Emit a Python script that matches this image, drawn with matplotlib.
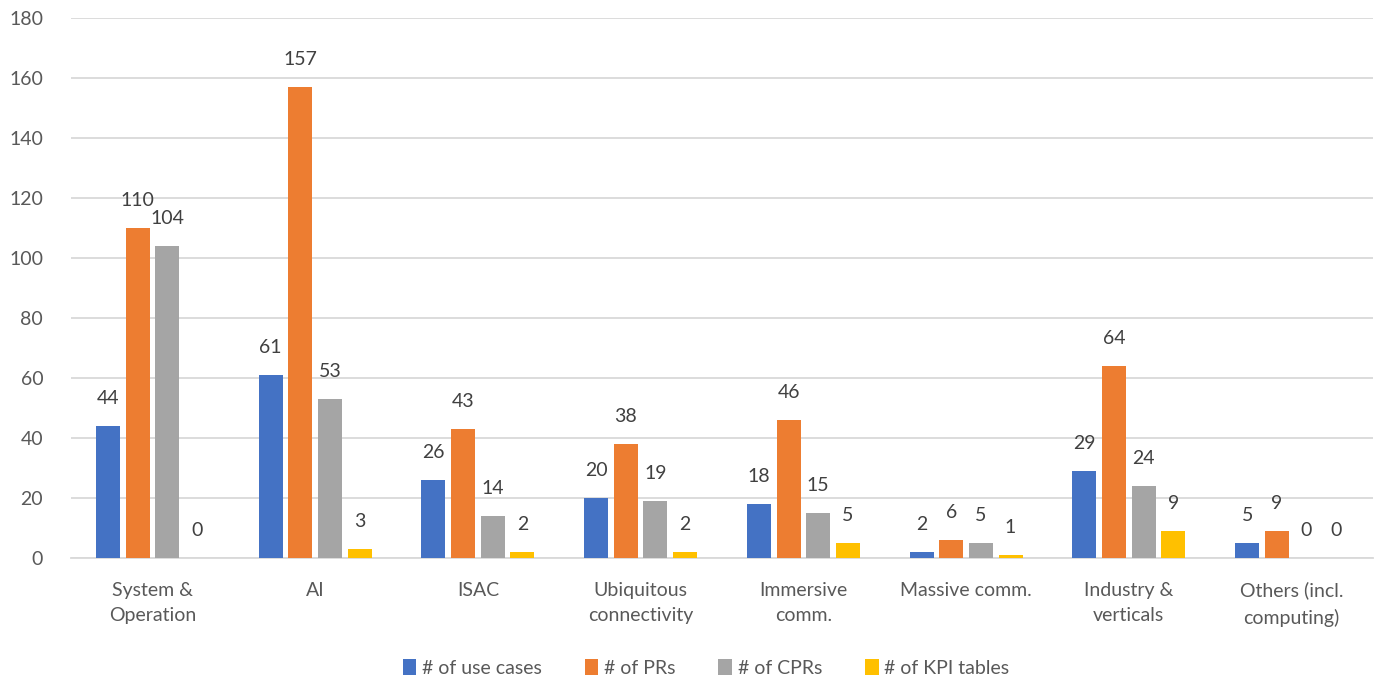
import numpy as np
import matplotlib.pyplot as plt
from matplotlib.patches import Patch

# ---------- data ----------
categories = ["System &\nOperation", "AI", "ISAC", "Ubiquitous\nconnectivity",
              "Immersive\ncomm.", "Massive comm.", "Industry &\nverticals",
              "Others (incl.\ncomputing)"]
use_cases = [44, 61, 26, 20, 18, 2, 29, 5]
prs = [110, 157, 43, 38, 46, 6, 64, 9]
cprs = [104, 53, 14, 19, 15, 5, 24, 0]
kpi_tables = [0, 3, 2, 2, 5, 1, 9, 0]

series_names = ["# of use cases", "# of PRs", "# of CPRs", "# of KPI tables"]
series_values = [use_cases, prs, cprs, kpi_tables]
colors = ["#4472C4", "#ED7D31", "#A5A5A5", "#FFC000"]

text_color = "#595959"
label_color = "#404040"
grid_color = "#D9D9D9"

plt.rcParams.update({
    "font.family": ["Lato", "DejaVu Sans"],
    "font.size": 14,
})

fig = plt.figure(figsize=(13.75, 6.82), dpi=100)
ax = fig.add_axes([71 / 1375, 1 - 558 / 682, (1373 - 71) / 1375, 540 / 682])

x = np.arange(len(categories))
bar_w = 0.147
pitch = 0.182
offsets = (np.arange(4) - 1.5) * pitch

for i, (name, vals, col) in enumerate(zip(series_names, series_values, colors)):
    pos = x + offsets[i]
    ax.bar(pos, vals, width=bar_w, color=col, zorder=3, label=name)
    for px, v in zip(pos, vals):
        ax.annotate(str(v), (px, v), xytext=(0, 20), textcoords="offset points",
                    ha="center", va="center", fontsize=14, color=label_color)

ax.set_xlim(-0.5, len(categories) - 0.5)
ax.set_ylim(0, 180)
ax.set_yticks(np.arange(0, 181, 20))
ax.set_xticks(x)
ax.set_xticklabels(categories, color=text_color, fontsize=14, linespacing=1.6)
ax.tick_params(axis="y", length=0, pad=20, colors=text_color, labelsize=14)
ax.tick_params(axis="x", length=0, pad=17)
ax.grid(axis="y", color=grid_color, linewidth=1.3, zorder=0)
for s in ["top", "right", "left"]:
    ax.spines[s].set_visible(False)
ax.spines["bottom"].set_color(grid_color)
ax.spines["bottom"].set_linewidth(1.3)

handles = [Patch(facecolor=c, label=n) for n, c in zip(series_names, colors)]
leg = fig.legend(handles=handles, loc="center", bbox_to_anchor=(706 / 1375, 1 - 668 / 682),
                 ncol=4, frameon=False, fontsize=14, handlelength=0.7, handleheight=0.9,
                 handletextpad=0.3, columnspacing=2.2)
for t in leg.get_texts():
    t.set_color(text_color)

fig.savefig("out.png", dpi=100)
